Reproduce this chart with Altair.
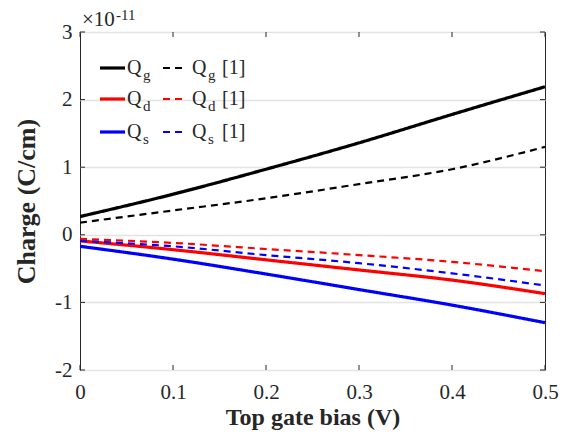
import altair as alt
import pandas as pd

# ---- data (charge in units of 1e-11 C/cm) ----
bias = [0.0, 0.1, 0.2, 0.3, 0.4, 0.5]
qg = [0.27, 0.60, 0.97, 1.36, 1.78, 2.19]
qd = [-0.09, -0.22, -0.37, -0.52, -0.67, -0.87]
qs = [-0.17, -0.36, -0.58, -0.81, -1.04, -1.30]
qg_ref = [0.18, 0.36, 0.54, 0.75, 0.97, 1.30]
qd_ref = [-0.06, -0.12, -0.21, -0.30, -0.40, -0.54]
qs_ref = [-0.09, -0.17, -0.30, -0.42, -0.57, -0.75]

series_names = ["Qg", "Qd", "Qs", "Qg [1]", "Qd [1]", "Qs [1]"]
series_vals = [qg, qd, qs, qg_ref, qd_ref, qs_ref]
series_colors = ["#000000", "#ff0000", "#0000ff", "#000000", "#ff0000", "#0000ff"]

x_ticks = [0.0, 0.1, 0.2, 0.3, 0.4, 0.5]
y_ticks = [-2, -1, 0, 1, 2, 3]

rows = []
for name, vals in zip(series_names, series_vals):
    for b, v in zip(bias, vals):
        rows.append({"bias": b, "charge": v, "series": name,
                     "kind": "ref" if "[1]" in name else "model"})
df = pd.DataFrame(rows)

W, H = 465, 338
FONT = "Liberation Serif"
FRAME = "#262626"

xs = alt.Scale(domain=[0, 0.5], nice=False, zero=False)
ys = alt.Scale(domain=[-2, 3], nice=False, zero=False)

x_axis = alt.Axis(values=x_ticks, labelExpr="datum.value", title="Top gate bias (V)",
                  grid=False, ticks=False, domain=False, labelFontSize=21,
                  labelFont=FONT, labelColor=FRAME, labelPadding=11,
                  titleFont=FONT, titleFontSize=24, titleFontWeight="bold",
                  titleColor=FRAME, titlePadding=3, labelFlush=False)
y_axis = alt.Axis(values=y_ticks, labelExpr="datum.value", title="Charge (C/cm)",
                  grid=True, gridColor="#e3e3e3", gridWidth=1.5,
                  ticks=False, domain=False, labelFontSize=21,
                  labelFont=FONT, labelColor=FRAME, labelPadding=8,
                  titleFont=FONT, titleFontSize=26, titleFontWeight="bold",
                  titleColor=FRAME, titlePadding=15)

lines = alt.Chart(df).mark_line(interpolate="monotone", clip=True).encode(
    x=alt.X("bias:Q", scale=xs, axis=x_axis, title="Top gate bias (V)"),
    y=alt.Y("charge:Q", scale=ys, axis=y_axis, title="Charge (C/cm)"),
    color=alt.Color("series:N", scale=alt.Scale(domain=series_names, range=series_colors), legend=None),
    strokeDash=alt.StrokeDash("kind:N", scale=alt.Scale(domain=["model", "ref"], range=[[1, 0], [7, 5]]), legend=None),
    strokeWidth=alt.StrokeWidth("kind:N", scale=alt.Scale(domain=["model", "ref"], range=[3.2, 2.2]), legend=None),
    detail="series:N",
)

# inside ticks on all four sides
xt = pd.DataFrame({"bias": x_ticks})
yt = pd.DataFrame({"charge": y_ticks})
tick_len = 5
xt_bottom = alt.Chart(xt).mark_rule(color=FRAME, strokeWidth=1).encode(
    x=alt.X("bias:Q", scale=xs, axis=x_axis, title="Top gate bias (V)"), y=alt.value(H), y2=alt.value(H - tick_len))
xt_top = alt.Chart(xt).mark_rule(color=FRAME, strokeWidth=1).encode(
    x=alt.X("bias:Q", scale=xs, axis=x_axis, title="Top gate bias (V)"), y=alt.value(0), y2=alt.value(tick_len))
yt_left = alt.Chart(yt).mark_rule(color=FRAME, strokeWidth=1).encode(
    y=alt.Y("charge:Q", scale=ys, axis=y_axis, title="Charge (C/cm)"), x=alt.value(0), x2=alt.value(tick_len))
yt_right = alt.Chart(yt).mark_rule(color=FRAME, strokeWidth=1).encode(
    y=alt.Y("charge:Q", scale=ys, axis=y_axis, title="Charge (C/cm)"), x=alt.value(W), x2=alt.value(W - tick_len))

# exponent label
exp_base = alt.Chart(pd.DataFrame({"t": ["×10"]})).mark_text(
    font=FONT, fontSize=21, align="left", baseline="alphabetic", color=FRAME).encode(
    text="t:N", x=alt.value(2), y=alt.value(-6))
exp_sup = alt.Chart(pd.DataFrame({"t": ["-11"]})).mark_text(
    font=FONT, fontSize=15, align="left", baseline="alphabetic", color=FRAME).encode(
    text="t:N", x=alt.value(36), y=alt.value(-12))

# custom legend
legend_layers = []
row_y = [36, 67, 100]
subs = ["g", "d", "s"]
colors = ["#000000", "#ff0000", "#0000ff"]
for ry, sub, col in zip(row_y, subs, colors):
    legend_layers.append(alt.Chart(pd.DataFrame({"a": [0]})).mark_rule(color=col, strokeWidth=3.2).encode(
        x=alt.value(20), x2=alt.value(45), y=alt.value(ry)))
    legend_layers.append(alt.Chart(pd.DataFrame({"a": [0]})).mark_rule(color=col, strokeWidth=2.2, strokeDash=[7, 5]).encode(
        x=alt.value(83), x2=alt.value(106), y=alt.value(ry)))
    for tx, t, fs, dy in [(47, "Q", 20, 6), (63, sub, 15, 12), (112, "Q", 20, 6), (128, sub, 15, 12), (142, "[1]", 20, 6)]:
        legend_layers.append(alt.Chart(pd.DataFrame({"t": [t]})).mark_text(
            font=FONT, fontSize=fs, align="left", baseline="alphabetic", color=FRAME).encode(
            text="t:N", x=alt.value(tx), y=alt.value(ry + dy)))

chart = alt.layer(lines, xt_bottom, xt_top, yt_left, yt_right, exp_base, exp_sup, *legend_layers).properties(
    width=W, height=H,
    autosize=alt.AutoSizeParams(type="none"),
    padding={"left": 72, "top": 24, "right": 26, "bottom": 61},
    background="white",
).configure_view(stroke=FRAME, strokeWidth=1)

chart.save("out.html", embed_options={"renderer": "svg", "actions": False})
